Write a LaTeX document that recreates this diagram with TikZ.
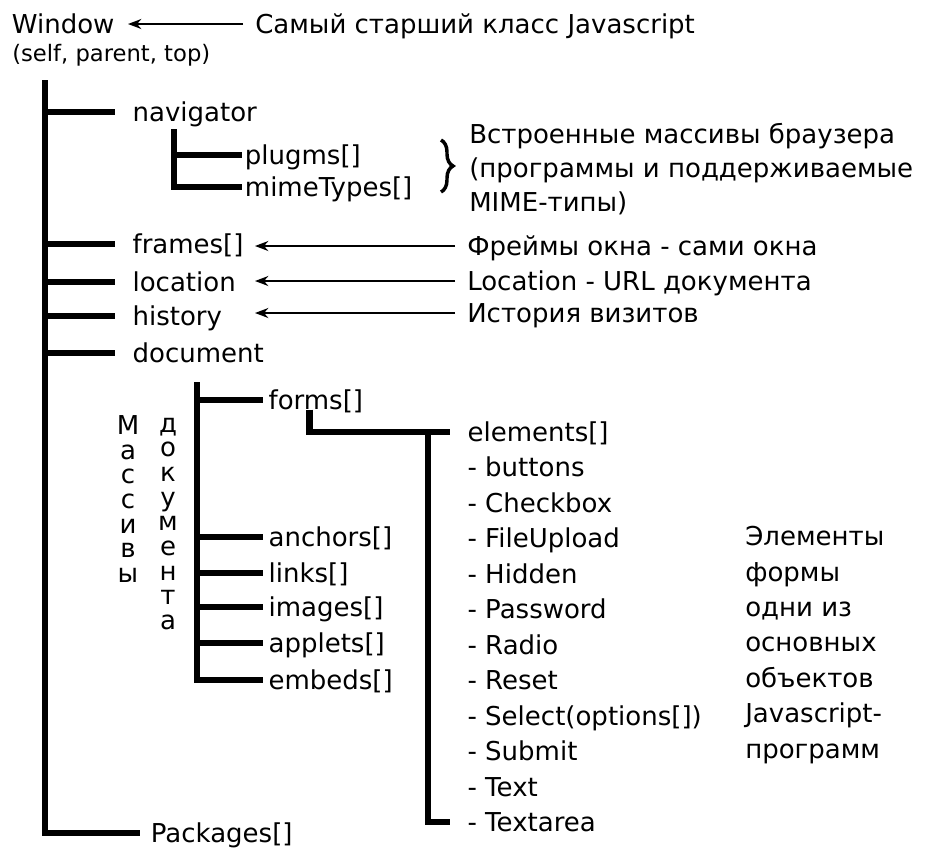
\documentclass[tikz,border=0pt]{standalone}
\usepackage{fontspec}
\setmainfont{DejaVu Sans}
\usetikzlibrary{arrows.meta, decorations.pathreplacing}

\begin{document}
\begin{tikzpicture}[
    x=0.75pt, y=-0.75pt,
    every node/.style={font=\fontsize{19.5}{26.6}\selectfont, inner sep=0pt},
    leaf/.style={anchor=west, text height=14pt, text depth=0pt},
    note/.style={anchor=west, inner xsep=9pt, text height=14pt, text depth=0pt},
    block/.style={anchor=west, align=left},
    vword/.style={align=center, font=\fontsize{19.5}{18.5}\selectfont},
    branch/.style={line width=5pt},
    ptr/.style={-{Stealth[length=10pt, width=7.5pt]}, line width=1.4pt}
]
\useasboundingbox (0,0) rectangle (927,850);

% root
\node[leaf, anchor=east, inner xsep=10pt] (win) at (128,24) {Window};
\node[note] (topnote) at (243,24) {Самый старший класс Javascript};
\node[leaf, text height=12pt, font=\fontsize{17}{20}\selectfont] (wself) at (12,53) {(self, parent, top)};

% first level
\node[leaf, inner xsep=13pt] (nav) at (115,112) {navigator};
\node[leaf, inner xsep=2pt] (plug) at (242,155) {plugms[]};
\node[leaf, inner xsep=2pt] (mime) at (242,187) {mimeTypes[]};
\node[leaf, inner xsep=13pt] (frames) at (115,244) {frames[]};
\node[leaf, inner xsep=13pt] (loc) at (115,282) {location};
\node[leaf, inner xsep=13pt] (hist) at (115,316) {history};
\node[leaf, inner xsep=13pt] (doc) at (115,353) {document};
\node[leaf, inner xsep=8pt] (pkgs) at (140,833) {Packages[]};

\node[block, font=\fontsize{19.5}{25.5}\selectfont] (brnote) at (469,169)
    {Встроенные массивы браузера\\(программы и поддерживаемые\\MIME-типы)};
\node[note] (fnote) at (455,246) {Фреймы окна - сами окна};
\node[note] (lnote) at (455,281) {Location - URL документа};
\node[note] (hnote) at (455,313) {История визитов};

% document arrays
\node[leaf, inner xsep=4pt] (forms) at (263,400) {forms[]};
\node[leaf, inner xsep=4pt] (anchors) at (263,537) {anchors[]};
\node[leaf, inner xsep=4pt] (links) at (263,573) {links[]};
\node[leaf, inner xsep=4pt] (images) at (263,607) {images[]};
\node[leaf, inner xsep=4pt] (applets) at (263,643) {applets[]};
\node[leaf, inner xsep=4pt] (embeds) at (263,680) {embeds[]};
\node[vword] (massw) at (128,499) {М\\а\\с\\с\\и\\в\\ы};
\node[vword] (docw) at (168,524) {д\\о\\к\\у\\м\\е\\н\\т\\а};

% form elements
\node[leaf, inner xsep=13pt] (elems) at (450,432) {elements[]};
\node[leaf, inner xsep=13pt] (buttons) at (450,467) {- buttons};
\node[leaf, inner xsep=13pt] (checkbox) at (450,503) {- Checkbox};
\node[leaf, inner xsep=13pt] (upload) at (450,538) {- FileUpload};
\node[leaf, inner xsep=13pt] (hidden) at (450,574) {- Hidden};
\node[leaf, inner xsep=13pt] (password) at (450,609) {- Password};
\node[leaf, inner xsep=13pt] (radio) at (450,645) {- Radio};
\node[leaf, inner xsep=13pt] (reset) at (450,680) {- Reset};
\node[leaf, inner xsep=13pt] (select) at (450,716) {- Select(options[])};
\node[leaf, inner xsep=13pt] (submit) at (450,751) {- Submit};
\node[leaf, inner xsep=13pt] (text) at (450,787) {- Text};
\node[leaf, inner xsep=13pt] (textarea) at (450,822) {- Textarea};
\node[block] (elnote) at (745,645)
    {Элементы\\формы\\одни из\\основных\\объектов\\Javascript-\\программ};

% tree lines
\coordinate (trunk) at (45,80);
\coordinate (navtrunk) at (174,129);
\coordinate (doctrunk) at (197,382);
\coordinate (eltrunk) at (428,432);
\coordinate (tipx) at (255,0);

\draw[branch] (trunk) |- (pkgs.west);
\foreach \n in {nav, frames, loc, hist, doc}
  \draw[branch] (\n.west -| trunk) -- (\n.west);
\draw[branch] (navtrunk) |- (mime.west);
\draw[branch] (plug.west -| navtrunk) -- (plug.west);
\draw[branch] (doctrunk) |- (embeds.west);
\foreach \n in {forms, anchors, links, images, applets}
  \draw[branch] (\n.west -| doctrunk) -- (\n.west);
\draw[branch] ([xshift=-4.8pt]forms.south) |- (elems.west);
\draw[branch] (eltrunk) |- (textarea.west);

% notes
\draw[ptr] (topnote.west) -- (win.east);
\draw[ptr] (fnote.west) -- (fnote.west -| tipx);
\draw[ptr] (lnote.west) -- (lnote.west -| tipx);
\draw[ptr] (hnote.west) -- (hnote.west -| tipx);
\draw[decorate, decoration={brace, amplitude=9pt}, line width=2.6pt]
    (441,140) -- (441,192);
\end{tikzpicture}
\end{document}
